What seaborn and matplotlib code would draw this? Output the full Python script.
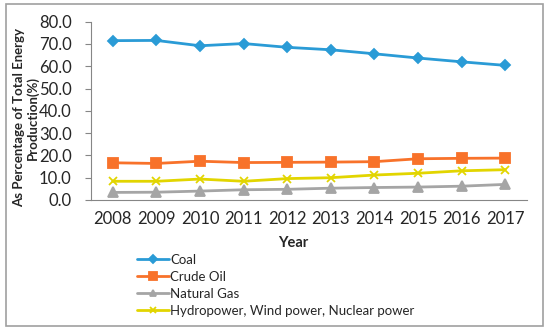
import matplotlib
matplotlib.use("Agg")
import matplotlib.pyplot as plt
import seaborn as sns
import pandas as pd
from matplotlib.patches import Rectangle

years = ["2008", "2009", "2010", "2011", "2012", "2013", "2014", "2015", "2016", "2017"]
coal = [71.5, 71.6, 69.2, 70.2, 68.5, 67.4, 65.6, 63.7, 62.0, 60.4]
crude_oil = [16.7, 16.4, 17.4, 16.8, 16.9, 17.0, 17.2, 18.5, 18.7, 18.8]
natural_gas = [3.4, 3.5, 4.0, 4.6, 4.8, 5.3, 5.6, 5.8, 6.2, 7.0]
hydro = [8.4, 8.4, 9.4, 8.4, 9.6, 10.0, 11.2, 12.0, 13.1, 13.6]
series_names = ["Coal", "Crude Oil", "Natural Gas", "Hydropower, Wind power, Nuclear power"]
y_ticks = [0, 10, 20, 30, 40, 50, 60, 70, 80]

sns.set_style("white")
plt.rcParams['font.family'] = ['Lato', 'DejaVu Sans']

rows = []
for name, vals in zip(series_names, [coal, crude_oil, natural_gas, hydro]):
    for i, (yr, v) in enumerate(zip(years, vals)):
        rows.append({"idx": i, "Year": yr, "value": v, "series": name})
df = pd.DataFrame(rows)

colors = {"Coal": "#2A9BD6", "Crude Oil": "#F8722A",
          "Natural Gas": "#A5A5A5", "Hydropower, Wind power, Nuclear power": "#E2D500"}
markers = {"Coal": "D", "Crude Oil": "s", "Natural Gas": "^",
           "Hydropower, Wind power, Nuclear power": "x"}
msizes = {"Coal": 5.5, "Crude Oil": 7, "Natural Gas": 6.5, "Hydropower, Wind power, Nuclear power": 6}

fig = plt.figure(figsize=(5.5, 3.34), dpi=100)
ax = fig.add_axes([91/550, 1 - 200/334, (527-91)/550, (200-21.7)/334])

for name in series_names:
    sub = df[df.series == name]
    sns.lineplot(data=sub, x="idx", y="value", ax=ax, color=colors[name], marker=markers[name],
                 markersize=msizes[name], markeredgecolor=colors[name], markeredgewidth=1.3,
                 linewidth=2.0, label=name, legend=False)

ax.set_xlim(-0.5, 9.5)
ax.set_ylim(0, 80)
ax.set_yticks(y_ticks)
ax.set_yticklabels([f"{t:.1f}" for t in y_ticks], fontsize=12)
ax.set_xticks(range(len(years)))
ax.set_xticklabels(years, fontsize=12)
ax.set_xticks([i - 0.5 for i in range(len(years) + 1)], minor=True)
ax.tick_params(axis="x", which="major", length=0, pad=8)
ax.tick_params(axis="x", which="minor", length=4, color="#868686", width=0.8, direction="out")
ax.tick_params(axis="y", which="major", length=4, color="#868686", width=0.8, direction="out", pad=10)
ax.tick_params(bottom=True, left=True)
for s in ["top", "right"]:
    ax.spines[s].set_visible(False)
for s in ["left", "bottom"]:
    ax.spines[s].set_color("#868686")
    ax.spines[s].set_linewidth(0.8)

ax.set_xlabel("Year", fontsize=10.5, fontweight="bold")
ax.xaxis.set_label_coords((293 - 91) / 436, (200 - 236) / 178.3)
ax.set_ylabel("As Percentage of Total Energy\nProduction(%)", fontsize=9.5, fontweight="bold",
              linespacing=1.15)
ax.yaxis.set_label_coords((39 - 91) / 436, (200 - 117.5) / 178.3)

handles, labels = ax.get_legend_handles_labels()
leg = fig.legend(handles, labels, loc="upper left", bbox_to_anchor=(137/550, 1 - 254/334),
                 frameon=False, fontsize=9.5, handlelength=2.4, handletextpad=0.1,
                 labelspacing=0.38, borderaxespad=0, borderpad=0, markerscale=0.75)

fig.patches.append(Rectangle((6/550, 1 - 326/334), (543-6)/550, (326-4)/334,
                             transform=fig.transFigure, fill=False, edgecolor="#A0A0A0",
                             linewidth=1.2))

fig.savefig("out.png", dpi=100)
